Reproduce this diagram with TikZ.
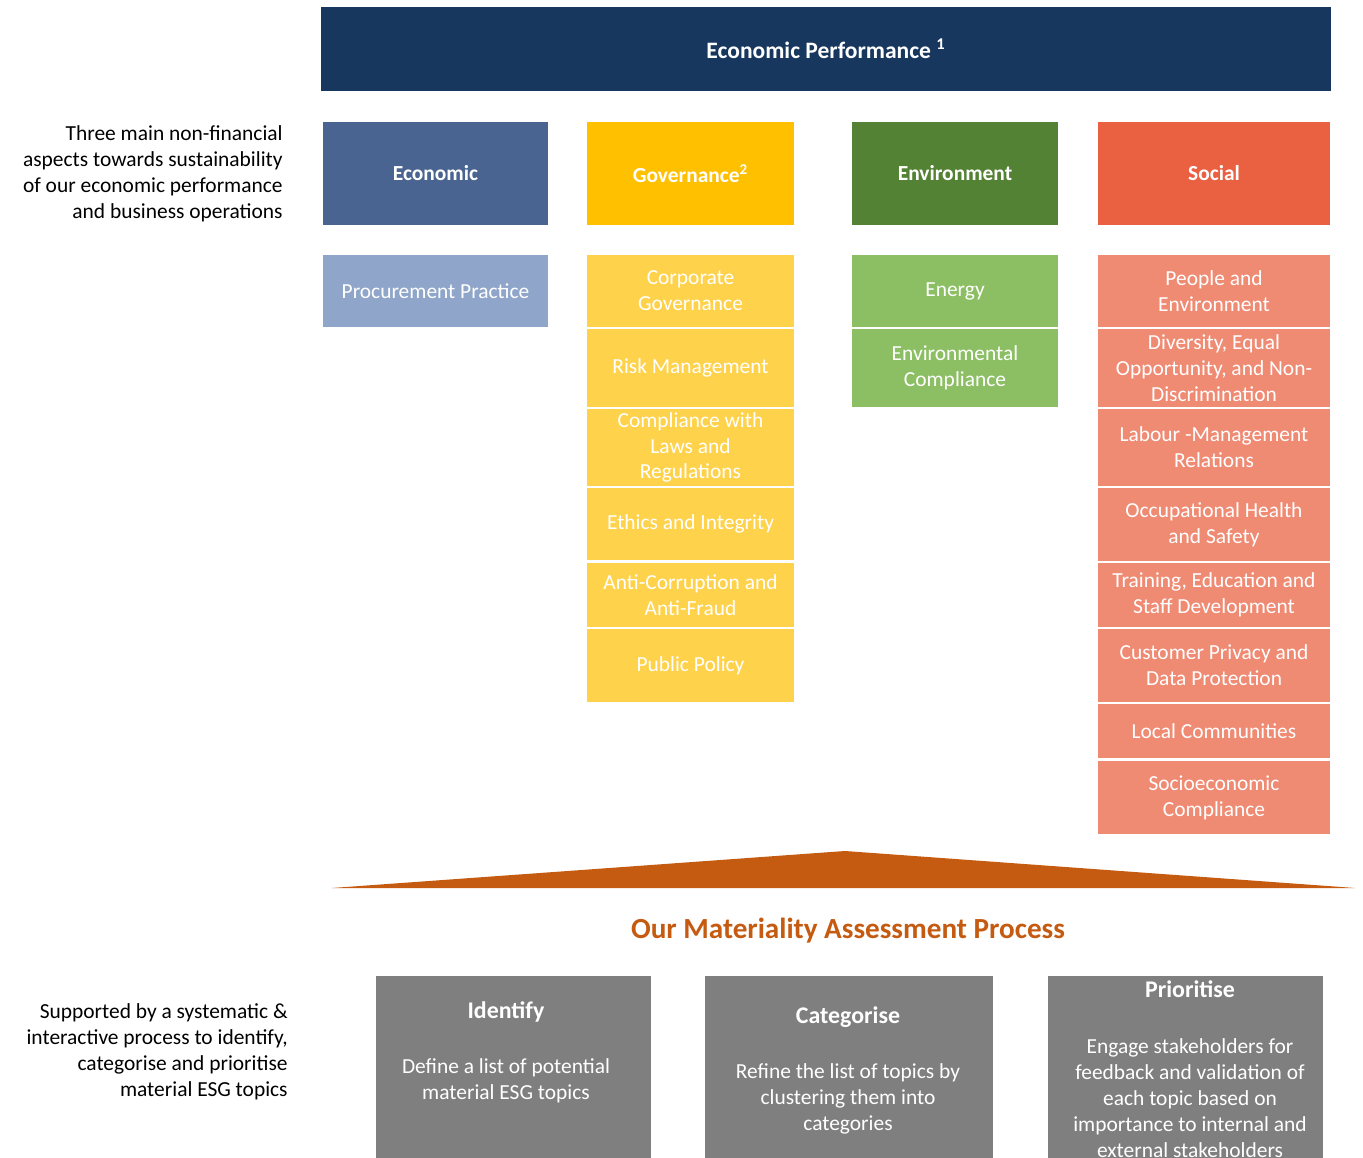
\documentclass[tikz,border=0pt]{standalone}
\usepackage{fontspec}
\setmainfont{Carlito}
\usepackage{tikz}
\definecolor{navy}{HTML}{17375E}
\definecolor{econdark}{HTML}{4A6491}
\definecolor{econlight}{HTML}{8FA5C9}
\definecolor{govdark}{HTML}{FFC000}
\definecolor{govlight}{HTML}{FFD24B}
\definecolor{envdark}{HTML}{548235}
\definecolor{envlight}{HTML}{8CBF64}
\definecolor{socdark}{HTML}{E96141}
\definecolor{soclight}{HTML}{EF8A73}
\definecolor{rust}{HTML}{C55A11}
\definecolor{stagegray}{HTML}{7F7F7F}
\tikzset{every node/.append style={font=\fontsize{12.2}{14.7}\selectfont},
  hdr/.style={inner sep=0pt, text=white, font=\fontsize{12.2}{14}\selectfont\bfseries},
  topic/.style={inner sep=0pt, text=white, align=center},
  stage/.style={inner sep=0pt, fill=stagegray, minimum height=3.88cm}}

\begin{document}
\begin{tikzpicture}[x=0.02cm, y=-0.02cm]
    \useasboundingbox (0,0) rectangle (1363,1158);

    \node[hdr, fill=navy, minimum width=20.2cm, minimum height=1.68cm, font=\fontsize{13.4}{16}\selectfont\bfseries] (perf) at (826,49) {Economic Performance \textsuperscript{1}};

    \node[align=right, anchor=east, inner sep=0pt] (aspects) at (283,174) {Three main non-financial\\aspects towards sustainability\\of our economic performance\\and business operations};

    \node[hdr, fill=econdark, minimum width=4.5cm, minimum height=2.06cm] (econ) at (435.5,173.5) {Economic};
    \node[hdr, fill=govdark, minimum width=4.14cm, minimum height=2.06cm] (gov) at (690.5,173.5) {Governance\textsuperscript{2}};
    \node[hdr, fill=envdark, minimum width=4.12cm, minimum height=2.06cm] (env) at (955,173.5) {Environment};
    \node[hdr, fill=socdark, minimum width=4.64cm, minimum height=2.06cm] (soc) at (1214,173.5) {Social};

    \node[topic, fill=econlight, minimum width=4.5cm, minimum height=1.44cm] (e1) at (435.5,291) {Procurement Practice};

    \node[topic, fill=govlight, minimum width=4.14cm, minimum height=1.44cm] (g1) at (690.5,291) {Corporate\\Governance};
    \node[topic, fill=govlight, minimum width=4.14cm, minimum height=1.56cm] (g2) at (690.5,368) {Risk Management};
    \node[topic, fill=govlight, minimum width=4.14cm, minimum height=1.54cm] (g3) at (690.5,447.5) {Compliance with\\Laws and\\Regulations};
    \node[topic, fill=govlight, minimum width=4.14cm, minimum height=1.44cm] (g4) at (690.5,524) {Ethics and Integrity};
    \node[topic, fill=govlight, minimum width=4.14cm, minimum height=1.28cm] (g5) at (690.5,595) {Anti-Corruption and\\Anti-Fraud};
    \node[topic, fill=govlight, minimum width=4.14cm, minimum height=1.46cm] (g6) at (690.5,665.5) {Public Policy};

    \node[topic, fill=envlight, minimum width=4.12cm, minimum height=1.44cm] (n1) at (955,291) {Energy};
    \node[topic, fill=envlight, minimum width=4.12cm, minimum height=1.56cm] (n2) at (955,368) {Environmental\\Compliance};

    \node[topic, fill=soclight, minimum width=4.64cm, minimum height=1.44cm] (s1) at (1214,291) {People and\\Environment};
    \node[topic, fill=soclight, minimum width=4.64cm, minimum height=1.56cm] (s2) at (1214,368) {Diversity, Equal\\Opportunity, and Non-\\Discrimination};
    \node[topic, fill=soclight, minimum width=4.64cm, minimum height=1.54cm] (s3) at (1214,447.5) {Labour -Management\\Relations};
    \node[topic, fill=soclight, minimum width=4.64cm, minimum height=1.46cm] (s4) at (1214,524.5) {Occupational Health\\and Safety};
    \node[topic, fill=soclight, minimum width=4.64cm, minimum height=1.28cm] (s5) at (1214,595) {Training, Education and\\Staff Development};
    \node[topic, fill=soclight, minimum width=4.64cm, minimum height=1.46cm] (s6) at (1214,665.5) {Customer Privacy and\\Data Protection};
    \node[topic, fill=soclight, minimum width=4.64cm, minimum height=1.08cm] (s7) at (1214,731) {Local Communities};
    \node[topic, fill=soclight, minimum width=4.64cm, minimum height=1.46cm] (s8) at (1214,797.5) {Socioeconomic\\Compliance};

    \fill[rust] (332,888) -- (845,851) -- (1355,888) -- cycle;

    \node[text=rust, font=\fontsize{16.6}{20}\selectfont\bfseries] (title) at (848,931) {Our Materiality Assessment Process};

    \node[align=right, anchor=east, inner sep=0pt] (support) at (288,1052) {Supported by a systematic \&\\interactive process to identify,\\categorise and prioritise\\material ESG topics};

    \node[stage, minimum width=5.5cm] (idf) at (513.5,1073) {};
    \node[stage, minimum width=5.76cm] (cat) at (849,1073) {};
    \node[stage, minimum width=5.5cm] (pri) at (1185.5,1073) {};

    \node[hdr, font=\fontsize{13.6}{16}\selectfont\bfseries] (idft) at (506,1012) {Identify};
    \node[topic] (idfb) at (506,1081) {Define a list of potential\\material ESG topics};
    \node[hdr, font=\fontsize{13.6}{16}\selectfont\bfseries] (catt) at (848,1017) {Categorise};
    \node[topic] (catb) at (848,1099) {Refine the list of topics by\\clustering them into\\categories};
    \node[hdr, font=\fontsize{13.6}{16}\selectfont\bfseries] (prit) at (1190,989) {Prioritise};
    \node[topic] (prib) at (1190,1098) {Engage stakeholders for\\feedback and validation of\\each topic based on\\importance to internal and\\external stakeholders};
\end{tikzpicture}
\end{document}
